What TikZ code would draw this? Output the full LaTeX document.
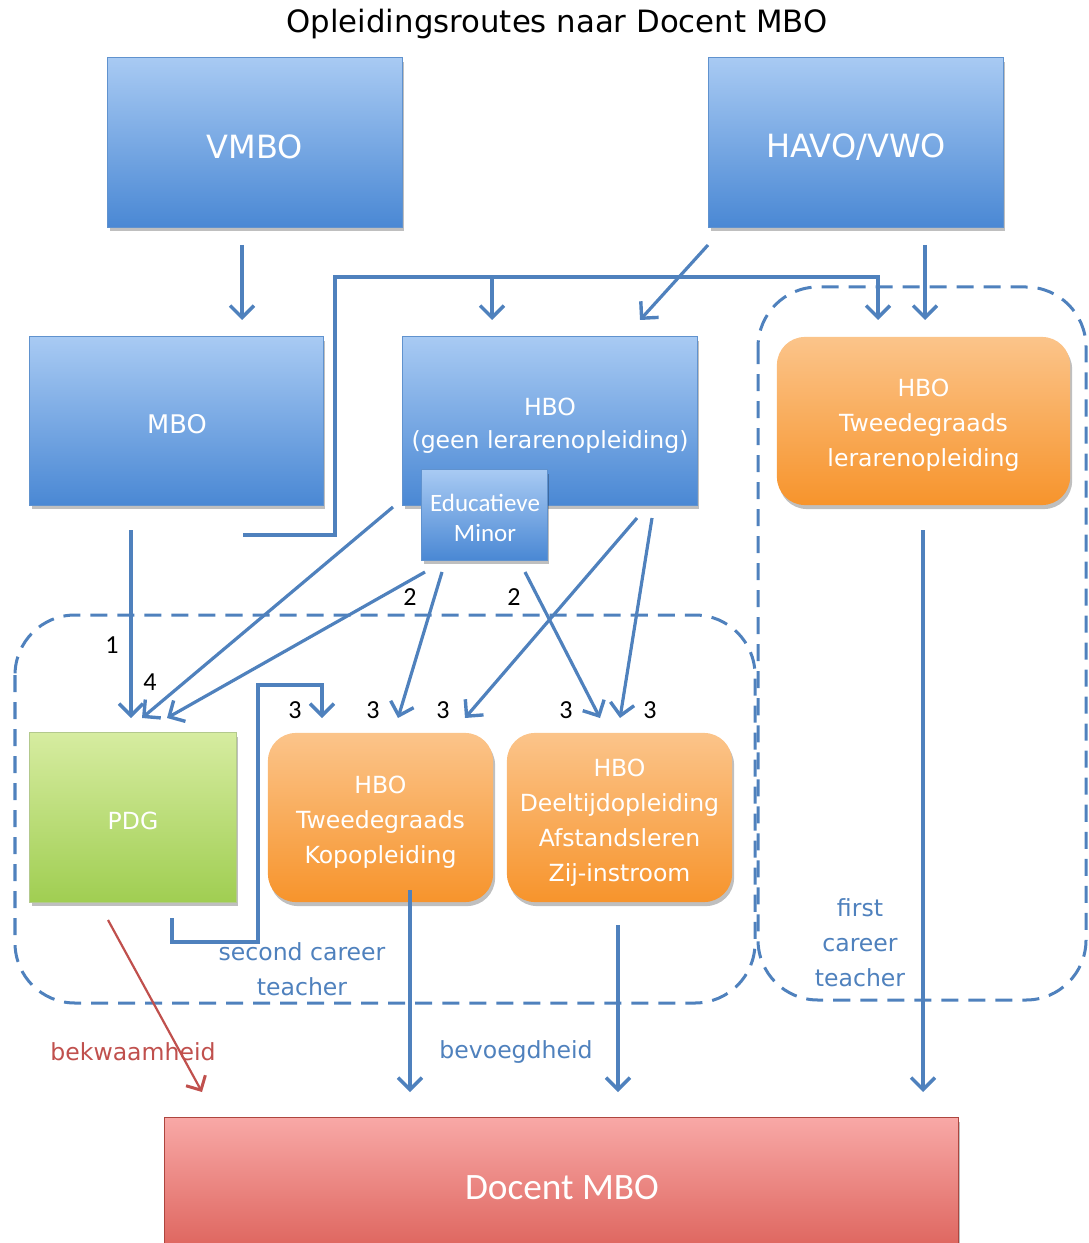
\documentclass[tikz,border=0pt]{standalone}
\usepackage{fontspec}
\setmainfont{DejaVu Sans}
\newfontfamily\calfont{Carlito}
\usetikzlibrary{arrows.meta,shadows}
\definecolor{lineblue}{RGB}{79,129,189}
\definecolor{bluetop}{RGB}{168,202,243}
\definecolor{bluebot}{RGB}{74,136,212}
\definecolor{blueedge}{RGB}{96,146,206}
\definecolor{orangetop}{RGB}{251,196,138}
\definecolor{orangebot}{RGB}{247,148,44}
\definecolor{greentop}{RGB}{214,236,160}
\definecolor{greenbot}{RGB}{160,206,82}
\definecolor{redtop}{RGB}{248,168,166}
\definecolor{redbot}{RGB}{216,86,78}
\definecolor{redline}{RGB}{192,80,77}
\tikzset{
  box/.style={draw=blueedge, line width=0.01cm, top color=bluetop, bottom color=bluebot,
    inner sep=0pt,
    drop shadow={shadow xshift=0.02cm, shadow yshift=-0.04cm, opacity=0.25, fill=black}},
  obox/.style={box, draw=none, rounded corners=0.28cm, top color=orangetop, bottom color=orangebot},
  gbox/.style={box, draw=greenbot!80!black!60, top color=greentop, bottom color=greenbot},
  rbox/.style={box, draw=redbot!80!black, top color=redtop, bottom color=redbot},
  conn/.style={draw=lineblue, line width=0.032cm, -{Straight Barb[length=0.12cm,width=0.24cm,line width=0.034cm]}},
  region/.style={draw=lineblue, line width=0.03cm, dash pattern=on 0.17cm off 0.1cm, rounded corners=0.6cm},
  fs/.style={font=\fontsize{6.7pt}{9.9pt}\selectfont},
  btext/.style={fs, text=white, align=center, inner sep=0pt},
  num/.style={font=\calfont\fontsize{7.4pt}{8pt}\selectfont, text=black, inner sep=0pt},
  lbl/.style={fs, text=lineblue, align=center, inner sep=0pt},
}
\begin{document}
\begin{tikzpicture}[x=0.01cm,y=-0.01cm]
\useasboundingbox (0,0) rectangle (1088,1243);
\clip (0,0) rectangle (1088,1243);

% title
\node[font=\fontsize{8.75pt}{10pt}\selectfont, inner sep=0pt] (title) at (557,24) {Opleidingsroutes naar Docent MBO};

% dashed regions
\draw[region] (15,615) rectangle (755,1003);
\draw[region] (758,287) rectangle (1086,1000);

% boxes
\node[box, minimum width=2.94cm, minimum height=1.69cm] (vmbo) at (255,142.5) {};
\node[box, minimum width=2.94cm, minimum height=1.69cm] (havo) at (856,142.5) {};
\node[box, minimum width=2.93cm, minimum height=1.68cm] (mbo) at (176.5,421) {};
\node[box, minimum width=2.94cm, minimum height=1.68cm] (hbo) at (550,421) {};
\node[box, minimum width=1.25cm, minimum height=0.9cm] (minor) at (484.5,515) {};
\node[obox, minimum width=2.93cm, minimum height=1.68cm] (hbo2) at (923.5,421) {};
\node[gbox, minimum width=2.06cm, minimum height=1.69cm] (pdg) at (133,817.5) {};
\node[obox, minimum width=2.25cm, minimum height=1.69cm] (kop) at (380.5,817.5) {};
\node[obox, minimum width=2.25cm, minimum height=1.69cm] (deel) at (619.5,817.5) {};
\node[rbox, minimum width=7.93cm, minimum height=1.6cm] (docent) at (561.5,1198) {};

% box texts
\node[btext, font=\fontsize{9.1pt}{11pt}\selectfont] (vmbotxt) at (255,147) {VMBO};
\node[btext, font=\fontsize{9.1pt}{11pt}\selectfont] (havotxt) at (856,147) {HAVO/VWO};
\node[btext, font=\fontsize{7.3pt}{9pt}\selectfont] (mbotxt) at (177,424) {MBO};
\node[btext, font=\fontsize{6.7pt}{9.4pt}\selectfont] (hbotxt) at (550,426) {HBO\\(geen lerarenopleiding)};
\node[btext, font=\calfont\fontsize{7.1pt}{8.6pt}\selectfont] (minortxt) at (485,518) {Educatieve\\Minor};
\node[btext] (hbo2txt) at (923.5,425) {HBO\\Tweedegraads\\lerarenopleiding};
\node[btext] (pdgtxt) at (133,821) {PDG};
\node[btext] (koptxt) at (380.5,822.5) {HBO\\Tweedegraads\\Kopopleiding};
\node[btext] (deeltxt) at (619.5,822.5) {HBO\\Deeltijdopleiding\\Afstandsleren\\Zij-instroom};
\node[btext, font=\calfont\fontsize{10.6pt}{12pt}\selectfont] (doctxt) at (562,1188) {Docent MBO};

% coordinates for connector ends
\coordinate (a1s) at (242,245); \coordinate (a1e) at (242,320);
\coordinate (a2s) at (925,245); \coordinate (a2e) at (925,320);
\coordinate (a3s) at (708,245); \coordinate (a3e) at (640,320);
\coordinate (b1) at (243,535); \coordinate (b2) at (335,277); \coordinate (b3) at (878,320);
\coordinate (b4) at (492,277); \coordinate (b5) at (492,320);
\coordinate (m1s) at (131,530); \coordinate (m1e) at (131,718);
\coordinate (h1s) at (393,507); \coordinate (h1e) at (142,718);
\coordinate (e1s) at (425,572); \coordinate (e1e) at (167,718);
\coordinate (e2s) at (442,572); \coordinate (e2e) at (398,718);
\coordinate (e3s) at (525,572); \coordinate (e3e) at (600,718);
\coordinate (h2s) at (637,518); \coordinate (h2e) at (465,718);
\coordinate (h3s) at (652,518); \coordinate (h3e) at (620,718);
\coordinate (p1) at (172,918); \coordinate (p2) at (258,942); \coordinate (p3) at (322,685); \coordinate (p4) at (322,718);
\coordinate (k1s) at (410,890); \coordinate (k1e) at (410,1092);
\coordinate (d1s) at (618,925); \coordinate (d1e) at (618,1092);
\coordinate (t1s) at (923,530); \coordinate (t1e) at (923,1092);
\coordinate (r1s) at (108,920); \coordinate (r1e) at (202,1092);

% connectors
\draw[conn] (a1s) -- (a1e);
\draw[conn] (a2s) -- (a2e);
\draw[conn] (a3s) -- (a3e);
\draw[conn] (b1) -| (b2) -| (b3);
\draw[conn] (b4) -- (b5);
\draw[conn] (m1s) -- (m1e);
\draw[conn] (h1s) -- (h1e);
\draw[conn] (e1s) -- (e1e);
\draw[conn] (e2s) -- (e2e);
\draw[conn] (e3s) -- (e3e);
\draw[conn] (h2s) -- (h2e);
\draw[conn] (h3s) -- (h3e);
\draw[conn] (p1) |- (p2) |- (p3) -- (p4);
\draw[conn] (k1s) -- (k1e);
\draw[conn] (d1s) -- (d1e);
\draw[conn] (t1s) -- (t1e);
\draw[draw=redline, line width=0.022cm, -{Straight Barb[length=0.11cm,width=0.22cm,line width=0.03cm]}] (r1s) -- (r1e);

% numbers
\node[num] (n1) at (112,645) {1};
\node[num] (n4) at (150,682) {4};
\node[num] (n2a) at (410,597) {2};
\node[num] (n2b) at (514,597) {2};
\node[num] (n3a) at (295,710) {3};
\node[num] (n3b) at (373,710) {3};
\node[num] (n3c) at (443,710) {3};
\node[num] (n3d) at (566,710) {3};
\node[num] (n3e) at (650,710) {3};

% labels
\node[lbl] (second) at (302,969) {second career\\teacher};
\node[lbl] (first) at (860,943) {first\\career\\teacher};
\node[lbl] (bevoeg) at (516,1052) {bevoegdheid};
\node[lbl, text=redline] (bekwaam) at (133,1052) {bekwaamheid};
\end{tikzpicture}
\end{document}
